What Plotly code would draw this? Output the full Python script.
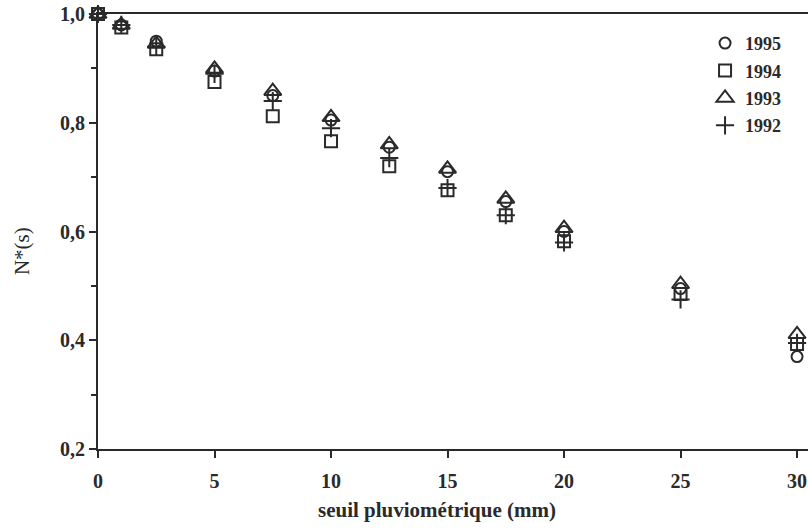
import plotly.graph_objects as go

# seuil pluviométrique (mm)
seuil = [0, 1, 2.5, 5, 7.5, 10, 12.5, 15, 17.5, 20, 25, 30]

# N*(s) per year
n1995 = [1.0, 0.98, 0.95, 0.895, 0.85, 0.805, 0.755, 0.71, 0.655, 0.60, 0.495, 0.37]
n1994 = [1.0, 0.975, 0.935, 0.875, 0.812, 0.766, 0.72, 0.676, 0.63, 0.582, 0.485, 0.393]
n1993 = [1.0, 0.98, 0.945, 0.899, 0.858, 0.81, 0.76, 0.715, 0.66, 0.606, 0.503, 0.411]
n1992 = [1.0, 0.98, 0.94, 0.89, 0.84, 0.79, 0.735, 0.68, 0.63, 0.58, 0.475, 0.395]

years = ["1995", "1994", "1993", "1992"]
series = [n1995, n1994, n1993, n1992]
symbols = ["circle-open", "square-open", "triangle-up-open", "cross-thin-open"]
sizes = [11, 12, 15, 13]

INK = "#2a2a2a"
FONT = "Liberation Serif"

fig = go.Figure()
for name, vals, sym, sz in zip(years, series, symbols, sizes):
    fig.add_trace(go.Scatter(
        x=seuil, y=vals, mode="markers", name=name,
        legendgroup=name,
        marker=dict(symbol=sym, size=sz, color=INK, line=dict(color=INK, width=2)),
        cliponaxis=False,
    ))

fig.update_layout(
    width=808, height=529,
    margin=dict(l=98, r=0, t=14, b=80),
    paper_bgcolor="white", plot_bgcolor="white",
    separators=", ",
    font=dict(family=FONT, color=INK, size=16),
    showlegend=True,
    legend=dict(
        x=0.855, y=0.975, xanchor="left", yanchor="top",
        bgcolor="rgba(0,0,0,0)", tracegroupgap=1,
        font=dict(family=FONT, size=18, color=INK, weight="bold"),
        itemwidth=30,
    ),
    annotations=[
        dict(text="seuil pluviométrique (mm)", xref="paper", yref="paper",
             x=0.4775, y=-0.14, xanchor="center", yanchor="middle", showarrow=False,
             font=dict(family=FONT, size=21, color=INK, weight="bold")),
        dict(text="N*(s)", xref="paper", yref="paper",
             x=-0.107, y=0.455, xanchor="center", yanchor="middle", showarrow=False,
             textangle=-90,
             font=dict(family=FONT, size=21, color=INK)),
    ],
)

fig.update_xaxes(
    range=[0, 30.47], dtick=5, tick0=0,
    showgrid=False, zeroline=False,
    showline=True, linecolor=INK, linewidth=2, mirror=True,
    ticks="outside", ticklen=7, tickwidth=1.5, tickcolor=INK,
    ticklabelstandoff=6,
    tickfont=dict(family=FONT, size=20, color=INK, weight="bold"),
)
fig.update_yaxes(
    range=[0.2, 1.0], dtick=0.2, tick0=0.2, tickformat=".1f",
    showgrid=False, zeroline=False,
    showline=True, linecolor=INK, linewidth=2,
    ticks="outside", ticklen=7, tickwidth=1.5, tickcolor=INK,
    minor=dict(ticks="outside", ticklen=5, dtick=0.1, tickwidth=1.5, tickcolor=INK, showgrid=False),
    tickfont=dict(family=FONT, size=20, color=INK, weight="bold"),
)

fig.write_html("out.html")
